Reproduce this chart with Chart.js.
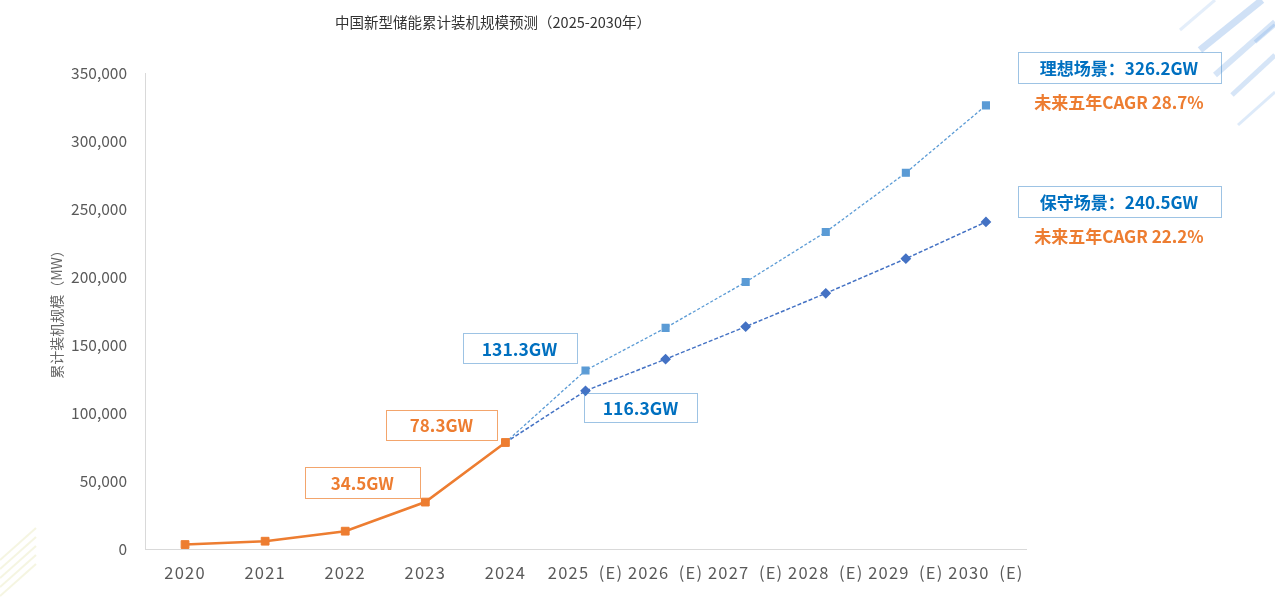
<!DOCTYPE html>
<html>
<head>
<meta charset="utf-8">
<script src="https://cdn.jsdelivr.net/npm/chart.js@4"></script>
<style>
  html, body { margin: 0; padding: 0; background: #fff; }
  #wrap { width: 1275px; height: 598px; position: relative; }
</style>
</head>
<body>
<div id="wrap"><canvas id="storageChart"></canvas></div>
<script>
// ---------- Data (MW) ----------
const years = ['2020', '2021', '2022', '2023', '2024',
  '2025\u2002(E)', '2026\u2002(E)', '2027\u2002(E)', '2028\u2002(E)', '2029\u2002(E)', '2030\u2002(E)'];
const actual = [3280, 5730, 13100, 34500, 78300, null, null, null, null, null, null];
const ideal = [null, null, null, null, 78300, 131300, 162600, 196300, 233100, 276600, 326200];
const conservative = [null, null, null, null, 78300, 116300, 139600, 163500, 188000, 213500, 240500];
const yTicks = [0, 50000, 100000, 150000, 200000, 250000, 300000, 350000];

const FONT = "'Noto Sans CJK SC', 'Noto Sans', sans-serif";
const ORANGE = '#ed7d31';
const BLUE_LIGHT = '#5b9bd5';
const BLUE_DARK = '#4472c4';
const BLUE_TEXT = '#0070c0';

const gw = (v) => (v / 1000).toFixed(1) + 'GW';

// ---------- Helpers ----------
function box(ctx, cx, cy, w, h, color, dotted) {
  ctx.save();
  ctx.strokeStyle = color;
  ctx.lineWidth = 1;
  ctx.setLineDash(dotted ? [1, 1] : []);
  ctx.strokeRect(Math.round(cx - w / 2) + 0.5, Math.round(cy - h / 2) + 0.5, w, h);
  ctx.restore();
}
function text(ctx, str, x, y, color, size, bold, align = 'center') {
  ctx.save();
  ctx.fillStyle = color;
  ctx.font = `${bold ? 'bold ' : ''}${size}px ${FONT}`;
  ctx.textAlign = align;
  ctx.textBaseline = 'middle';
  ctx.fillText(str, x, y);
  ctx.restore();
}
function pointAt(chart, dsIndex, i) {
  const p = chart.getDatasetMeta(dsIndex).data[i];
  return { x: p.x, y: p.y };
}

// ---------- Background stripes + spaced x labels ----------
const decor = {
  id: 'decor',
  beforeDraw(chart) {
    const ctx = chart.ctx;
    // the x axis labels in the source are letter-spaced
    const xs = chart.scales.x;
    if (!xs._spaced) {
      const orig = xs.drawLabels.bind(xs);
      xs.drawLabels = (area) => {
        ctx.letterSpacing = '1.2px';
        orig(area);
        ctx.letterSpacing = '0px';
      };
      xs._spaced = true;
    }
    ctx.save();
    ctx.lineCap = 'butt';
    // top-right blue stripes
    const blues = [
      [1200, 50, 1262, 0, 7, 0.35], [1215, 75, 1275, 22, 6, 0.3],
      [1232, 95, 1275, 55, 5, 0.3], [1238, 125, 1275, 92, 3, 0.25],
      [1180, 30, 1215, 0, 3, 0.2], [1255, 42, 1275, 25, 4, 0.3],
    ];
    blues.forEach(([x1, y1, x2, y2, w, a]) => {
      ctx.strokeStyle = `rgba(120,170,230,${a})`;
      ctx.lineWidth = w;
      ctx.beginPath(); ctx.moveTo(x1, y1); ctx.lineTo(x2, y2); ctx.stroke();
    });
    // bottom-left faint yellow stripes
    ctx.strokeStyle = 'rgba(225,225,170,0.35)';
    ctx.lineWidth = 2;
    for (let k = 0; k < 5; k++) {
      ctx.beginPath(); ctx.moveTo(0, 560 + k * 9); ctx.lineTo(36, 528 + k * 9); ctx.stroke();
    }
    ctx.restore();
  },
};

// ---------- Title + callouts ----------
const callouts = {
  id: 'callouts',
  afterDraw(chart) {
    const ctx = chart.ctx;
    text(ctx, '中国新型储能累计装机规模预测（2025-2030年）', 493, 22, '#333', 14.5, false);

    // historic labels (orange, solid box)
    let p = pointAt(chart, 0, 3);
    box(ctx, p.x - 63, p.y - 20, 115, 31, '#f3a56c', false);
    text(ctx, gw(actual[3]), p.x - 63, p.y - 19, ORANGE, 17, true);
    p = pointAt(chart, 0, 4);
    box(ctx, p.x - 64, p.y - 18, 111, 30, '#f3a56c', false);
    text(ctx, gw(actual[4]), p.x - 64, p.y - 17, ORANGE, 17, true);

    // 2025 forecast labels (blue, dotted box)
    const dot = '#3a86c8';
    p = pointAt(chart, 1, 5);
    box(ctx, p.x - 66, p.y - 22, 114, 30, dot, true);
    text(ctx, gw(ideal[5]), p.x - 66, p.y - 21, BLUE_TEXT, 17.5, true);
    p = pointAt(chart, 2, 5);
    box(ctx, p.x + 55, p.y + 17, 113, 29, dot, true);
    text(ctx, gw(conservative[5]), p.x + 55, p.y + 18, BLUE_TEXT, 17.5, true);

    // 2030 scenario labels
    const rx = chart.chartArea.right + 93;
    p = pointAt(chart, 1, 10);
    box(ctx, rx, p.y - 38, 203, 31, dot, true);
    text(ctx, '理想场景：' + gw(ideal[10]), rx, p.y - 37, BLUE_TEXT, 17, true);
    text(ctx, '未来五年CAGR 28.7%', rx, p.y - 3, ORANGE, 17, true);
    p = pointAt(chart, 2, 10);
    box(ctx, rx, p.y - 20, 203, 31, dot, true);
    text(ctx, '保守场景：' + gw(conservative[10]), rx, p.y - 19, BLUE_TEXT, 17, true);
    text(ctx, '未来五年CAGR 22.2%', rx, p.y + 15, ORANGE, 17, true);
  },
};

// ---------- Chart ----------
new Chart(document.getElementById('storageChart'), {
  type: 'line',
  data: {
    labels: years,
    datasets: [
      {
        label: '历史',
        data: actual,
        borderColor: ORANGE, backgroundColor: ORANGE,
        borderWidth: 2.6, tension: 0,
        pointStyle: 'rect', pointRadius: 5.5, pointBorderWidth: 1,
      },
      {
        label: '理想场景',
        data: ideal,
        borderColor: BLUE_LIGHT, backgroundColor: BLUE_LIGHT,
        borderWidth: 1.3, borderDash: [3, 2], tension: 0,
        pointStyle: 'rect',
        pointRadius: (c) => (c.dataIndex === 4 ? 0 : 4.8),
      },
      {
        label: '保守场景',
        data: conservative,
        borderColor: BLUE_DARK, backgroundColor: BLUE_DARK,
        borderWidth: 1.5, borderDash: [4, 2], tension: 0,
        pointStyle: 'rectRot',
        pointRadius: (c) => (c.dataIndex === 4 ? 0 : 4.3),
      },
    ],
  },
  options: {
    responsive: true, maintainAspectRatio: false, animation: false,
    layout: { padding: { top: 73, right: 249, bottom: 0, left: 0 } },
    plugins: { legend: { display: false }, tooltip: { enabled: false } },
    scales: {
      x: {
        offset: true,
        grid: { display: false },
        border: { color: '#d9d9d9' },
        ticks: { color: '#595959', font: { family: FONT, size: 16.5 }, padding: 6, maxRotation: 0, autoSkip: false },
        afterFit: (s) => { s.height = 49; },
      },
      y: {
        min: 0, max: 350000,
        afterBuildTicks: (s) => { s.ticks = yTicks.map((v) => ({ value: v })); },
        grid: { display: false },
        border: { color: '#d9d9d9' },
        ticks: { color: '#595959', font: { family: FONT, size: 15.5 }, padding: 10,
                 callback: (v) => v.toLocaleString('en-US') },
        title: { display: true, text: '累计装机规模（MW）', color: '#666',
                 font: { family: FONT, size: 14 }, padding: { top: 48, bottom: 0 } },
        afterFit: (s) => { s.width = 145; },
      },
    },
  },
  plugins: [decor, callouts],
});
</script>
</body>
</html>
